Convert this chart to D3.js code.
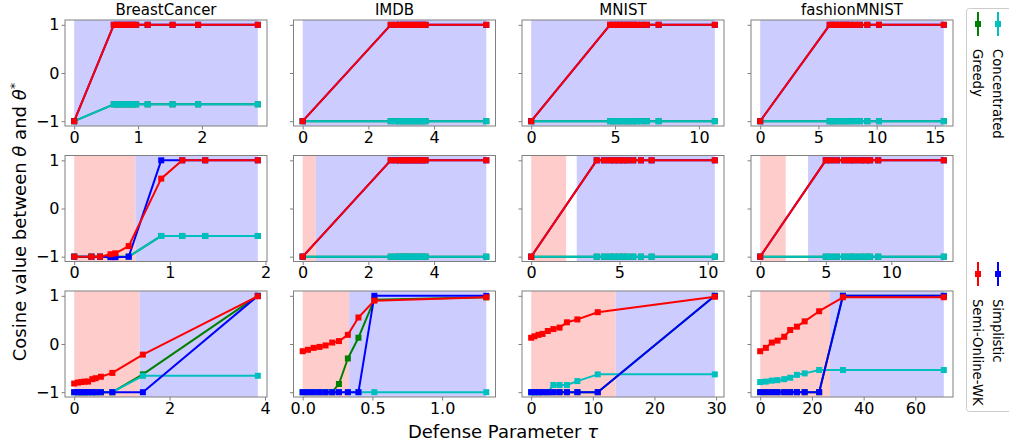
<!DOCTYPE html>
<html><head><meta charset="utf-8">
<script src="https://cdn.jsdelivr.net/npm/d3@7"></script>
<style>body{margin:0;background:#fff} svg{display:block} text{font-family:"DejaVu Sans",sans-serif;fill:#000}</style>
</head><body><svg id="c" width="1009" height="444"></svg>
<script>
// ---------- data ----------
const datasets = ["BreastCancer", "IMDB", "MNIST", "fashionMNIST"];
const seriesNames = ["Greedy", "Concentrated", "Simplistic", "Semi-Online-WK"];
const yTicks = [-1, 0, 1];

// Row 1
const r1_bc_x = [0, 0.62, 0.67, 0.72, 0.77, 0.82, 0.87, 0.92, 0.97, 1.15, 1.54, 1.94, 2.875];
const r1_bc_red = [-1, 1, 1, 1, 1, 1, 1, 1, 1, 1, 1, 1, 1];
const r1_bc_cyan = [-1, -0.65, -0.65, -0.65, -0.65, -0.65, -0.65, -0.65, -0.65, -0.65, -0.65, -0.65, -0.65];
const r1_imdb_x = [0, 2.68, 2.84, 2.95, 3.05, 3.15, 3.25, 3.35, 3.45, 3.55, 3.65, 3.74, 5.59];
const r1_imdb_red = [-1, 1, 1, 1, 1, 1, 1, 1, 1, 1, 1, 1, 1];
const r1_imdb_cyan = [-1, -1, -1, -1, -1, -1, -1, -1, -1, -1, -1, -1, -1];
const r1_mnist_x = [0, 4.7, 4.9, 5.1, 5.3, 5.5, 5.7, 5.9, 6.1, 6.3, 6.6, 6.9, 7.6, 10.95];
const r1_mnist_red = [-1, 1, 1, 1, 1, 1, 1, 1, 1, 1, 1, 1, 1, 1];
const r1_mnist_cyan = [-1, -1, -1, -1, -1, -1, -1, -1, -1, -1, -1, -1, -1, -1];
const r1_fm_x = [0, 5.97, 6.2, 6.5, 6.8, 7.1, 7.4, 7.7, 8.1, 8.57, 9.2, 10.2, 15.77];
const r1_fm_red = [-1, 1, 1, 1, 1, 1, 1, 1, 1, 1, 1, 1, 1];
const r1_fm_cyan = [-1, -1, -1, -1, -1, -1, -1, -1, -1, -1, -1, -1, -1];

// Row 2
const r2_bc_x = [0, 0.18, 0.27, 0.38, 0.43, 0.57, 0.91, 1.13, 1.37, 1.92];
const r2_bc_red = [-1, -1, -1, -0.95, -0.93, -0.78, 0.62, 1, 1, 1];
const r2_bc_blue = [-1, -1, -1, -1.01, -1.01, -1, 1, 1, 1, 1];
const r2_bc_cyan = [-1, -1, -1, -1, -1, -1, -0.57, -0.57, -0.57, -0.57];
const r2_imdb_x = [0, 2.68, 2.84, 2.95, 3.05, 3.15, 3.25, 3.35, 3.45, 3.55, 3.65, 3.74, 5.59];
const r2_imdb_red = [-1, 1, 1, 1, 1, 1, 1, 1, 1, 1, 1, 1, 1];
const r2_imdb_cyan = [-1, -1, -1, -1, -1, -1, -1, -1, -1, -1, -1, -1, -1];
const r2_mnist_x = [0, 3.71, 4.12, 4.46, 4.7, 4.95, 5.2, 5.45, 5.78, 6.22, 6.82, 10.4];
const r2_mnist_red = [-1, 1, 1, 1, 1, 1, 1, 1, 1, 1, 1, 1];
const r2_mnist_cyan = [-1, -1, -1, -1, -1, -1, -1, -1, -1, -1, -1, -1];
const r2_fm_x = [0, 5.0, 5.38, 5.84, 6.4, 6.85, 7.2, 7.66, 8.05, 8.38, 9.0, 14.0];
const r2_fm_red = [-1, 1, 1, 1, 1, 1, 1, 1, 1, 1, 1, 1];
const r2_fm_cyan = [-1, -1, -1, -1, -1, -1, -1, -1, -1, -1, -1, -1];

// Row 3
const r3_bc_x = [0, 0.08, 0.15, 0.22, 0.29, 0.38, 0.45, 0.56, 0.8, 1.44, 3.85];
const r3_bc_red = [-0.82, -0.8, -0.79, -0.78, -0.78, -0.73, -0.71, -0.68, -0.6, -0.22, 0.99];
const r3_bc_blue = [-1, -1, -1, -1, -1, -1, -1, -1, -1, -1, 1];
const r3_bc_green = [-1, -1, -1, -1, -1, -1, -1, -1, -1, -0.63, 1];
const r3_bc_cyan = [-1, -1, -1, -1, -1, -1, -1, -1, -1, -0.66, -0.66];
const r3_imdb_x = [0, 0.038, 0.079, 0.121, 0.164, 0.212, 0.26, 0.324, 0.4, 0.514, 1.317];
const r3_imdb_red = [-0.15, -0.12, -0.08, -0.06, -0.03, 0.03, 0.06, 0.19, 0.55, 0.9, 0.97];
const r3_imdb_blue = [-1, -1, -1, -1, -1, -1, -1, -1, -1, 1, 1];
const r3_imdb_green = [-1, -1, -1, -1, -1, -1, -0.83, -0.3, 0.13, 0.92, 0.97];
const r3_imdb_cyan = [-1, -1, -1, -1, -1, -1, -1, -1, -1, -1, -1];
const r3_mnist_x = [0, 0.54, 1.19, 1.84, 2.7, 3.6, 4.6, 5.8, 7.5, 10.8, 29.8];
const r3_mnist_red = [0.13, 0.16, 0.19, 0.21, 0.27, 0.31, 0.34, 0.45, 0.51, 0.66, 0.98];
const r3_mnist_blue = [-1, -1, -1, -1, -1, -1, -1, -1, -1, -1, 1];
const r3_mnist_cyan = [-1, -1, -1, -1, -1, -0.85, -0.85, -0.85, -0.77, -0.63, -0.63];
const r3_fm_x = [0, 2.2, 4.5, 6.7, 9.3, 11.6, 14.2, 17.2, 22.8, 32, 71];
const r3_fm_red = [-0.15, -0.08, 0.03, 0.07, 0.15, 0.29, 0.36, 0.47, 0.68, 0.97, 0.97];
const r3_fm_blue = [-1, -1, -1, -1, -1, -1, -1, -1, -1, 1, 1];
const r3_fm_cyan = [-0.79, -0.78, -0.76, -0.75, -0.73, -0.7, -0.64, -0.61, -0.54, -0.54, -0.54];

// shaded intervals [pinkStart, pinkEnd, blueStart, blueEnd] (null = none)
const shadeRow1 = [[null, null, 0, 2.875], [null, null, 0, 5.59], [null, null, 0, 10.95], [null, null, 0, 15.77]];
const shadeRow2 = [[0, 0.64, 0.64, 1.92], [0, 0.4, 0.4, 5.59], [0, 1.98, 2.58, 10.4], [0, 1.95, 3.65, 14.0]];
const shadeRow3 = [[0, 1.37, 1.37, 3.85], [0, 0.333, 0.333, 1.317], [0, 13.7, 13.7, 29.8], [0, 27, 27, 71]];

const xTicksRow1 = [[0, 1, 2], [0, 2, 4], [0, 5, 10], [0, 5, 10, 15]];
const xTicksRow2 = [[0, 1, 2], [0, 2, 4], [0, 5, 10], [0, 5, 10]];
const xTicksRow3 = [[0, 2, 4], [0.0, 0.5, 1.0], [0, 10, 20, 30], [0, 20, 40, 60]];
const xTickFmtRow3 = [null, ".1f", null, null];

// ---------- panel assembly ----------
const panels = [
  // row 1
  {x: r1_bc_x, green: r1_bc_cyan, cyan: r1_bc_cyan, blue: r1_bc_red, red: r1_bc_red},
  {x: r1_imdb_x, green: r1_imdb_cyan, cyan: r1_imdb_cyan, blue: r1_imdb_red, red: r1_imdb_red},
  {x: r1_mnist_x, green: r1_mnist_cyan, cyan: r1_mnist_cyan, blue: r1_mnist_red, red: r1_mnist_red},
  {x: r1_fm_x, green: r1_fm_cyan, cyan: r1_fm_cyan, blue: r1_fm_red, red: r1_fm_red},
  // row 2
  {x: r2_bc_x, green: r2_bc_cyan, cyan: r2_bc_cyan, blue: r2_bc_blue, red: r2_bc_red},
  {x: r2_imdb_x, green: r2_imdb_cyan, cyan: r2_imdb_cyan, blue: r2_imdb_red, red: r2_imdb_red},
  {x: r2_mnist_x, green: r2_mnist_cyan, cyan: r2_mnist_cyan, blue: r2_mnist_red, red: r2_mnist_red},
  {x: r2_fm_x, green: r2_fm_cyan, cyan: r2_fm_cyan, blue: r2_fm_red, red: r2_fm_red},
  // row 3
  {x: r3_bc_x, green: r3_bc_green, cyan: r3_bc_cyan, blue: r3_bc_blue, red: r3_bc_red},
  {x: r3_imdb_x, green: r3_imdb_green, cyan: r3_imdb_cyan, blue: r3_imdb_blue, red: r3_imdb_red},
  {x: r3_mnist_x, green: r3_mnist_blue, cyan: r3_mnist_cyan, blue: r3_mnist_blue, red: r3_mnist_red},
  {x: r3_fm_x, green: r3_fm_blue, cyan: r3_fm_cyan, blue: r3_fm_blue, red: r3_fm_red}
];
const shades = [...shadeRow1, ...shadeRow2, ...shadeRow3];
const xTicks = [...xTicksRow1, ...xTicksRow2, ...xTicksRow3];

// ---------- layout / style ----------
const colors = {green: "#008000", cyan: "#00bfbf", blue: "#0000ff", red: "#ff0000"};
const drawOrder = ["green", "cyan", "blue", "red"];
const colLeft = [65, 293.5, 522, 751];
const panelW = 202;
const rowTop = [20, 155.5, 291];
const panelH = 106;
const spineColor = "#808080";

const svg = d3.select("#c");

panels.forEach((p, i) => {
  const row = Math.floor(i / 4), col = i % 4;
  const L = colLeft[col], T = rowTop[row];
  const xmin = d3.min(p.x), xmax = d3.max(p.x), pad = (xmax - xmin) * 0.05;
  const xs = d3.scaleLinear().domain([xmin - pad, xmax + pad]).range([L, L + panelW]);
  const ys = d3.scaleLinear().domain([-1.1, 1.1]).range([T + panelH, T]);
  const g = svg.append("g");

  const s = shades[i];
  if (s[0] !== null) {
    g.append("rect").attr("x", xs(s[0])).attr("y", T).attr("width", xs(s[1]) - xs(s[0])).attr("height", panelH)
      .attr("fill", "#ffcccc");
  }
  g.append("rect").attr("x", xs(s[2])).attr("y", T).attr("width", xs(s[3]) - xs(s[2])).attr("height", panelH)
    .attr("fill", "#ccccff");

  drawOrder.forEach(k => {
    const pts = p.x.map((xv, j) => [xv, p[k][j]]);
    g.append("path").datum(pts)
      .attr("d", d3.line().x(d => xs(d[0])).y(d => ys(d[1])))
      .attr("fill", "none").attr("stroke", colors[k]).attr("stroke-width", 2).attr("stroke-linejoin", "round");
    g.selectAll(null).data(pts).enter().append("rect")
      .attr("x", d => xs(d[0]) - 3).attr("y", d => ys(d[1]) - 3)
      .attr("width", 6).attr("height", 6).attr("fill", colors[k]);
  });

  // axes
  const fmt = row === 2 && xTickFmtRow3[col] ? d3.format(xTickFmtRow3[col]) : d3.format("d");
  const xAxis = d3.axisBottom(xs).tickValues(xTicks[i]).tickSize(3.5).tickPadding(2)
    .tickFormat(d => fmt(d).replace("-", "\u2212"));
  const yAxis = d3.axisLeft(ys).tickValues(yTicks).tickSize(3.5).tickPadding(2)
    .tickFormat(col === 0 ? (d => String(d).replace("-", "\u2212")) : "");
  const ax = g.append("g").attr("transform", `translate(0,${T + panelH})`).call(xAxis);
  const ay = g.append("g").attr("transform", `translate(${L},0)`).call(yAxis);
  [ax, ay].forEach(a => {
    a.select(".domain").remove();
    a.selectAll(".tick line").attr("stroke", spineColor);
    a.selectAll(".tick text").attr("font-size", 16).attr("font-family", "DejaVu Sans").attr("fill", "#000");
  });
  g.append("rect").attr("x", L).attr("y", T).attr("width", panelW).attr("height", panelH)
    .attr("fill", "none").attr("stroke", spineColor).attr("stroke-width", 1);

  if (row === 0) {
    g.append("text").attr("x", L + panelW / 2).attr("y", T - 5).attr("text-anchor", "middle")
      .attr("font-size", 15).text(datasets[col]);
  }
});

// axis labels
svg.append("text").attr("x", 503).attr("y", 438).attr("text-anchor", "middle").attr("font-size", 18)
  .text("Defense Parameter ").append("tspan").attr("font-style", "italic").text("\u03c4");

const yl = svg.append("text").attr("transform", "translate(26,222) rotate(-90)").attr("text-anchor", "middle")
  .attr("font-size", 18);
yl.append("tspan").text("Cosine value between ");
yl.append("tspan").attr("font-style", "italic").text("\u03b8");
yl.append("tspan").text(" and ");
yl.append("tspan").attr("font-style", "italic").text("\u03b8");
yl.append("tspan").attr("font-size", 13).attr("dy", -7).text("*");

// legend (rotated)
const lg = svg.append("g");
lg.append("rect").attr("x", 966.5).attr("y", 8.5).attr("width", 60).attr("height", 403).attr("rx", 3)
  .attr("fill", "#fff").attr("stroke", "#cccccc");
const legendEntries = [
  {name: seriesNames[0], key: "green", cx: 978, y0: 12},
  {name: seriesNames[1], key: "cyan", cx: 998, y0: 12},
  {name: seriesNames[3], key: "red", cx: 978, y0: 262},
  {name: seriesNames[2], key: "blue", cx: 998, y0: 262}
];
legendEntries.forEach(e => {
  lg.append("line").attr("x1", e.cx).attr("x2", e.cx).attr("y1", e.y0).attr("y2", e.y0 + 24)
    .attr("stroke", colors[e.key]).attr("stroke-width", 2);
  lg.append("rect").attr("x", e.cx - 3).attr("y", e.y0 + 9).attr("width", 6).attr("height", 6).attr("fill", colors[e.key]);
  lg.append("text").attr("transform", `translate(${e.cx - 5},${e.y0 + 37}) rotate(90)`)
    .attr("font-size", 13.2).text(e.name);
});
</script></body></html>
